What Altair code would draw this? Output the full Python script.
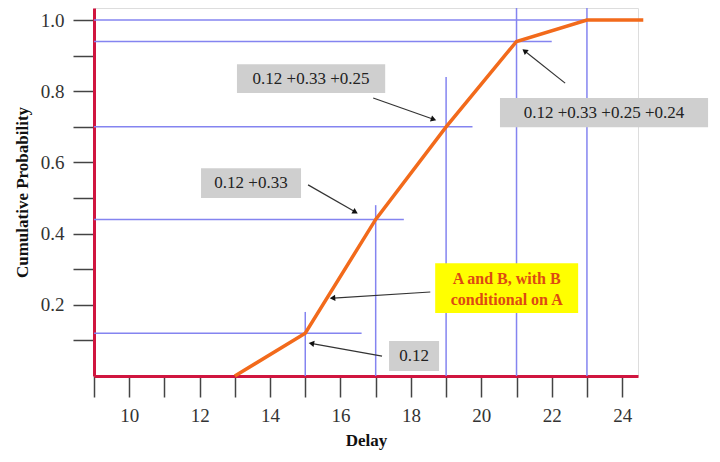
import altair as alt
import pandas as pd
import numpy as np

# ---- data ----
delay = [13, 15, 17, 19, 21, 23, 24.6]
cumprob = [0.0, 0.12, 0.44, 0.70, 0.94, 1.0, 1.0]

# horizontal guide lines (y value, x end)
h_y = [1.0, 0.94, 0.70, 0.44, 0.12]
h_xend = [23, 22, 19.75, 17.8, 16.6]
# vertical guide lines (x value, y top)
v_x = [15, 17, 19, 21, 23]
v_ytop = [0.18, 0.48, 0.84, 1.034, 1.034]

# tick values / labels
x_ticks = list(range(9, 25))
y_ticks = [0.1, 0.2, 0.3, 0.4, 0.5, 0.6, 0.7, 0.8, 0.9, 1.0]

# gray label boxes
box_text = ["0.12 +0.33 +0.25", "0.12 +0.33", "0.12 +0.33 +0.25 +0.24", "0.12"]
box_x1 = [13.06, 12.04, 20.53, 17.38]
box_x2 = [17.27, 14.88, 26.44, 18.80]
box_y1 = [0.795, 0.500, 0.699, 0.014]
box_y2 = [0.876, 0.584, 0.781, 0.098]

# yellow box
ybox_lines = ["A and B, with B", "conditional on A"]
ybox_x = [18.69, 22.75]
ybox_y = [0.177, 0.317]
ybox_line_y = [0.272, 0.214]

# arrows (start -> head)
arr_x1 = [16.93, 15.08, 22.38, 18.55, 17.18]
arr_y1 = [0.781, 0.537, 0.823, 0.236, 0.056]
arr_x2 = [18.62, 16.40, 21.25, 15.80, 15.20]
arr_y2 = [0.722, 0.462, 0.912, 0.219, 0.091]

XMIN, XMAX = 9, 24.45
YMIN, YMAX = 0, 1.034
W, H = 544, 368

xs = alt.Scale(domain=[XMIN, XMAX], nice=False, zero=False)
ys = alt.Scale(domain=[YMIN, YMAX], nice=False, zero=False)

FONT = "Liberation Serif"
BLUE = "#8484f0"

hdf = pd.DataFrame({"y": h_y, "x1": [XMIN] * len(h_y), "x2": h_xend})
vdf = pd.DataFrame({"x": v_x, "y1": [0] * len(v_x), "y2": v_ytop})
ldf = pd.DataFrame({"x": delay, "y": cumprob})

bdf = pd.DataFrame({"t": box_text, "x1": box_x1, "x2": box_x2, "y1": box_y1, "y2": box_y2})
bdf["xc"] = (bdf.x1 + bdf.x2) / 2
bdf["yc"] = (bdf.y1 + bdf.y2) / 2

ydf = pd.DataFrame({"x1": [ybox_x[0]], "x2": [ybox_x[1]], "y1": [ybox_y[0]], "y2": [ybox_y[1]]})
ytdf = pd.DataFrame({"t": ybox_lines, "x": [(ybox_x[0] + ybox_x[1]) / 2] * 2, "y": ybox_line_y})

adf = pd.DataFrame({"x1": arr_x1, "y1": arr_y1, "x2": arr_x2, "y2": arr_y2})
pxu = W / (XMAX - XMIN)
pyu = H / (YMAX - YMIN)
dx = (adf.x2 - adf.x1) * pxu
dy_screen = -(adf.y2 - adf.y1) * pyu
adf["ang"] = np.mod(np.degrees(np.arctan2(dx, -dy_screen)), 360)

x_axis = alt.Axis(
    values=x_ticks, tickCount=40,
    labelExpr="datum.value % 2 == 0 ? format(datum.value, 'd') : ''",
    labelOverlap=False,
    title="Delay", titleFont=FONT, titleFontSize=17, titleFontWeight="bold", titleColor="#111",
    labelFont=FONT, labelFontSize=19, labelColor="#333", labelPadding=9,
    tickSize=21, tickColor="#444", tickWidth=1.5,
    domainColor="#d0153f", domainWidth=3, grid=False, titlePadding=7, labelFlush=False,
)
y_axis = alt.Axis(
    values=y_ticks, tickCount=40,
    labelExpr="round(datum.value*10) % 2 == 0 ? format(datum.value, '.1f') : ''",
    labelOverlap=False,
    title="Cumulative Probability", titleFont=FONT, titleFontSize=17, titleFontWeight="bold",
    titleColor="#111", titlePadding=9,
    labelFont=FONT, labelFontSize=19, labelColor="#333", labelPadding=9,
    tickSize=21, tickColor="#444", tickWidth=1.5,
    domainColor="#d0153f", domainWidth=3, grid=False, labelFlush=False,
)

hlines = alt.Chart(hdf).mark_rule(color=BLUE, strokeWidth=1.5).encode(
    x=alt.X("x1:Q", scale=xs, axis=x_axis), x2="x2:Q",
    y=alt.Y("y:Q", scale=ys, axis=y_axis),
)
vlines = alt.Chart(vdf).mark_rule(color=BLUE, strokeWidth=1.5).encode(
    x=alt.X("x:Q", scale=xs), y=alt.Y("y1:Q", scale=ys), y2="y2:Q",
)
line = alt.Chart(ldf).mark_line(color="#f26a1b", strokeWidth=3.5).encode(
    x=alt.X("x:Q", scale=xs), y=alt.Y("y:Q", scale=ys),
)
boxes = alt.Chart(bdf).mark_rect(color="#cfcfcf").encode(
    x=alt.X("x1:Q", scale=xs), x2="x2:Q", y=alt.Y("y1:Q", scale=ys), y2="y2:Q",
)
btext = alt.Chart(bdf).mark_text(font=FONT, fontSize=17, color="#222").encode(
    x=alt.X("xc:Q", scale=xs), y=alt.Y("yc:Q", scale=ys), text="t:N",
)
ybox = alt.Chart(ydf).mark_rect(color="#ffff00").encode(
    x=alt.X("x1:Q", scale=xs), x2="x2:Q", y=alt.Y("y1:Q", scale=ys), y2="y2:Q",
)
ytext = alt.Chart(ytdf).mark_text(font=FONT, fontSize=16, fontWeight="bold", color="#dd4a12").encode(
    x=alt.X("x:Q", scale=xs), y=alt.Y("y:Q", scale=ys), text="t:N",
)
arrows = alt.Chart(adf).mark_rule(color="#333", strokeWidth=1.2).encode(
    x=alt.X("x1:Q", scale=xs), y=alt.Y("y1:Q", scale=ys), x2="x2:Q", y2="y2:Q",
)
heads = alt.Chart(adf).mark_point(shape="triangle", filled=True, color="#111", size=40, opacity=1).encode(
    x=alt.X("x2:Q", scale=xs), y=alt.Y("y2:Q", scale=ys), angle=alt.Angle("ang:Q", scale=None),
)

chart = alt.layer(hlines, vlines, line, boxes, btext, ybox, ytext, arrows, heads).properties(
    width=W, height=H,
    autosize=alt.AutoSizeParams(type="none"),
    padding={"left": 86, "top": 0, "right": 74, "bottom": 76},
).configure_view(stroke=None).configure(background="white")

chart.save("out.html", embed_options={"renderer": "svg", "actions": False})
